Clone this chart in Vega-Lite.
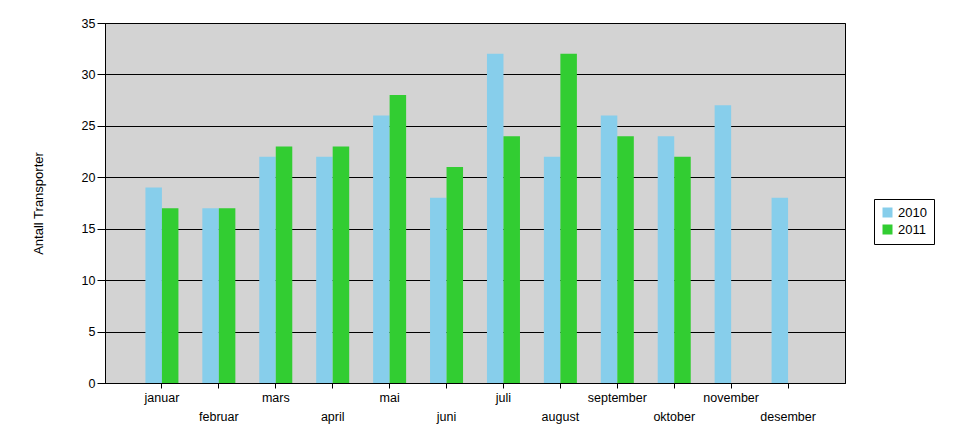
{
  "$schema": "https://vega.github.io/schema/vega-lite/v6.json",
  "autosize": "none",
  "width": 740,
  "height": 360,
  "padding": {"left": 105, "top": 23, "right": 119, "bottom": 61},
  "background": "white",
  "data": {
    "values": [
      {"month": "januar", "year": "2010", "value": 19},
      {"month": "januar", "year": "2011", "value": 17},
      {"month": "februar", "year": "2010", "value": 17},
      {"month": "februar", "year": "2011", "value": 17},
      {"month": "mars", "year": "2010", "value": 22},
      {"month": "mars", "year": "2011", "value": 23},
      {"month": "april", "year": "2010", "value": 22},
      {"month": "april", "year": "2011", "value": 23},
      {"month": "mai", "year": "2010", "value": 26},
      {"month": "mai", "year": "2011", "value": 28},
      {"month": "juni", "year": "2010", "value": 18},
      {"month": "juni", "year": "2011", "value": 21},
      {"month": "juli", "year": "2010", "value": 32},
      {"month": "juli", "year": "2011", "value": 24},
      {"month": "august", "year": "2010", "value": 22},
      {"month": "august", "year": "2011", "value": 32},
      {"month": "september", "year": "2010", "value": 26},
      {"month": "september", "year": "2011", "value": 24},
      {"month": "oktober", "year": "2010", "value": 24},
      {"month": "oktober", "year": "2011", "value": 22},
      {"month": "november", "year": "2010", "value": 27},
      {"month": "desember", "year": "2010", "value": 18}
    ]
  },
  "config": {
    "font": "Liberation Sans",
    "view": {"fill": "#D3D3D3", "stroke": "#000000", "strokeWidth": 1},
    "axis": {
      "labelFont": "Liberation Sans",
      "titleFont": "Liberation Sans",
      "labelFontSize": 12.5,
      "titleFontSize": 13,
      "titleFontWeight": "normal",
      "labelColor": "#000000",
      "titleColor": "#000000",
      "domainColor": "#000000",
      "tickColor": "#000000",
      "gridColor": "#000000",
      "gridOpacity": 1,
      "gridWidth": 1
    }
  },
  "mark": {"type": "bar"},
  "encoding": {
    "x": {
      "field": "month",
      "type": "nominal",
      "sort": ["januar", "februar", "mars", "april", "mai", "juni", "juli", "august", "september", "oktober", "november", "desember"],
      "scale": {"paddingInner": 0.42, "paddingOuter": 0.71},
      "axis": {
        "title": null,
        "labelAngle": 0,
        "tickSize": 5,
        "labelPadding": 3,
        "labelLineHeight": 19,
        "labelBaseline": "top",
        "grid": false,
        "labelExpr": "indexof(['februar','april','juni','august','oktober','desember'], datum.value) >= 0 ? ['', datum.value] : datum.value"
      }
    },
    "xOffset": {
      "field": "year",
      "type": "nominal",
      "scale": {"paddingInner": 0, "paddingOuter": 0}
    },
    "y": {
      "field": "value",
      "type": "quantitative",
      "scale": {"domain": [0, 35], "nice": false},
      "axis": {
        "title": "Antall Transporter",
        "values": [0, 5, 10, 15, 20, 25, 30, 35],
        "tickSize": 8,
        "labelPadding": 2,
        "titlePadding": 36,
        "grid": true
      }
    },
    "color": {
      "field": "year",
      "type": "nominal",
      "scale": {"domain": ["2010", "2011"], "range": ["#87CEEB", "#32CD32"]},
      "legend": {
        "title": null,
        "orient": "none",
        "legendX": 769,
        "legendY": 176,
        "strokeColor": "#000000",
        "padding": 7,
        "symbolType": "square",
        "symbolSize": 100,
        "symbolStrokeWidth": 0,
        "symbolOpacity": 1,
        "labelFont": "Liberation Sans",
        "labelFontSize": 13,
        "labelColor": "#000000",
        "labelOffset": 4,
        "rowPadding": 3
      }
    }
  }
}
